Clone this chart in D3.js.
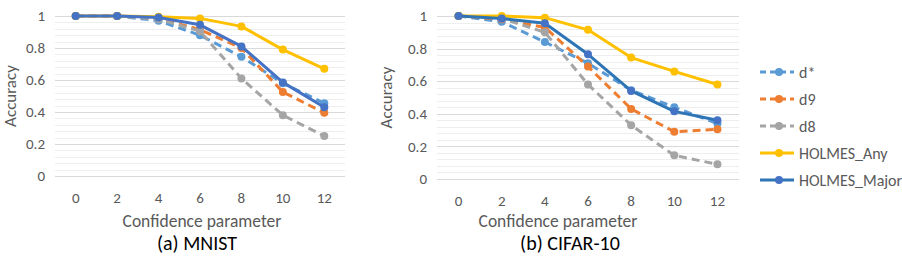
<!DOCTYPE html>
<html>
<head>
<meta charset="utf-8">
<script src="https://cdn.jsdelivr.net/npm/d3@7"></script>
<style>
  body { margin: 0; background: #fff; }
  svg text { font-family: Carlito, Lato, "Open Sans", sans-serif; fill: #595959; }
</style>
</head>
<body>
<script>
var categories = ["0", "2", "4", "6", "8", "10", "12"];
var seriesNames = ["d*", "d9", "d8", "HOLMES_Any", "HOLMES_Major"];

// MNIST
var mnistDStar = [1, 1, 0.97, 0.88, 0.745, 0.58, 0.455];
var mnistD9 = [1, 1, 0.985, 0.915, 0.8, 0.525, 0.395];
var mnistD8 = [1, 1, 0.98, 0.905, 0.61, 0.38, 0.25];
var mnistAny = [1, 1, 0.995, 0.985, 0.935, 0.79, 0.67];
var mnistMajor = [1, 1, 0.99, 0.945, 0.81, 0.585, 0.43];

// CIFAR-10
var cifarDStar = [1, 0.965, 0.84, 0.71, 0.545, 0.44, 0.34];
var cifarD9 = [1, 0.98, 0.93, 0.69, 0.43, 0.29, 0.305];
var cifarD8 = [1, 0.985, 0.9, 0.58, 0.33, 0.145, 0.09];
var cifarAny = [1, 1, 0.99, 0.915, 0.745, 0.66, 0.58];
var cifarMajor = [1, 0.985, 0.955, 0.765, 0.54, 0.415, 0.36];

var yTicks = [0, 0.2, 0.4, 0.6, 0.8, 1];

var colors = ["#5B9BD5", "#ED7D31", "#A5A5A5", "#FFC000", "#2E75B6"];
var dashes = ["8,5", "8,5", "8,5", null, null];

var width = 902, height = 262;

var svg = d3.select("body").append("svg")
    .attr("width", width)
    .attr("height", height);

function drawPanel(opts) {
    var x = d3.scalePoint().domain(categories).range([opts.left, opts.right]).padding(0.5);
    var y = d3.scaleLinear().domain([0, 1]).range([opts.bottom, opts.top]);
    var g = svg.append("g");

    // minor gridlines
    var minor = d3.range(0, 1.0001, 0.04);
    g.selectAll(".minor").data(minor).enter().append("line")
        .attr("x1", opts.left).attr("x2", opts.right)
        .attr("y1", function(d){ return Math.round(y(d)) + 0.5; })
        .attr("y2", function(d){ return Math.round(y(d)) + 0.5; })
        .attr("stroke", "#EEEEEE").attr("stroke-width", 1);

    // major gridlines
    g.selectAll(".major").data(yTicks).enter().append("line")
        .attr("x1", opts.left).attr("x2", opts.right)
        .attr("y1", function(d){ return Math.round(y(d)) + 0.5; })
        .attr("y2", function(d){ return Math.round(y(d)) + 0.5; })
        .attr("stroke", "#D9D9D9").attr("stroke-width", 1);

    // y tick labels
    g.selectAll(".ylab").data(yTicks).enter().append("text")
        .attr("x", opts.left - 10)
        .attr("y", function(d){ return y(d); })
        .attr("dy", "0.35em")
        .attr("text-anchor", "end")
        .attr("font-size", "15px")
        .text(function(d){ return d3.format("")(+d.toFixed(1)); });

    // x tick labels
    g.selectAll(".xlab").data(categories).enter().append("text")
        .attr("x", function(d){ return x(d); })
        .attr("y", opts.bottom + 22)
        .attr("dy", "0.35em")
        .attr("text-anchor", "middle")
        .attr("font-size", "15px")
        .text(function(d){ return d; });

    g.append("text")
        .attr("transform", "translate(" + opts.yTitleX + "," + ((opts.top + opts.bottom) / 2) + ") rotate(-90)")
        .attr("text-anchor", "middle")
        .attr("dy", "0.35em")
        .attr("font-size", "17px")
        .text("Accuracy");

    g.append("text")
        .attr("x", opts.xTitleX)
        .attr("y", 221)
        .attr("dy", "0.35em")
        .attr("text-anchor", "middle")
        .attr("font-size", "17.5px")
        .text("Confidence parameter");

    g.append("text")
        .attr("x", opts.titleX)
        .attr("y", 243)
        .attr("dy", "0.35em")
        .attr("text-anchor", "middle")
        .attr("font-size", "20px")
        .style("fill", "#000")
        .text(opts.title);

    var line = d3.line()
        .x(function(d, i){ return x(categories[i]); })
        .y(function(d){ return y(d); });

    opts.series.forEach(function(values, k) {
        var c = (k === 4) ? opts.majorColor : colors[k];
        g.append("path")
            .datum(values)
            .attr("d", line)
            .attr("fill", "none")
            .attr("stroke", c)
            .attr("stroke-width", 3)
            .attr("stroke-linejoin", "round")
            .attr("stroke-dasharray", dashes[k]);
        g.selectAll(".pt" + k).data(values).enter().append("circle")
            .attr("cx", function(d, i){ return x(categories[i]); })
            .attr("cy", function(d){ return y(d); })
            .attr("r", 4)
            .attr("fill", k === 4 ? "#4472C4" : c);
    });
}

drawPanel({
    left: 55, right: 345, top: 16, bottom: 176,
    yTitleX: 10, title: "(a) MNIST", titleX: 197, xTitleX: 202, majorColor: "#4472C4",
    series: [mnistDStar, mnistD9, mnistD8, mnistAny, mnistMajor]
});

drawPanel({
    left: 437, right: 739, top: 16, bottom: 179,
    yTitleX: 386, title: "(b) CIFAR-10", titleX: 570, xTitleX: 558, majorColor: "#2E75B6",
    series: [cifarDStar, cifarD9, cifarD8, cifarAny, cifarMajor]
});

// legend
var legend = svg.append("g");
var items = legend.selectAll(".legend-item").data(seriesNames).enter().append("g")
    .attr("transform", function(d, i){ return "translate(760," + (72 + 27 * i) + ")"; });
items.append("line")
    .attr("x1", 0).attr("x2", 34).attr("y1", 0).attr("y2", 0)
    .attr("stroke", function(d, i){ return colors[i]; })
    .attr("stroke-width", 3)
    .attr("stroke-dasharray", function(d, i){ return dashes[i] ? "6,4" : null; });
items.append("circle")
    .attr("cx", 19).attr("cy", 0).attr("r", 4)
    .attr("fill", function(d, i){ return i === 4 ? "#4472C4" : colors[i]; });
items.append("text")
    .attr("x", 39).attr("y", 0).attr("dy", "0.35em")
    .attr("font-size", "16px")
    .text(function(d){ return d; });
</script>
</body>
</html>
